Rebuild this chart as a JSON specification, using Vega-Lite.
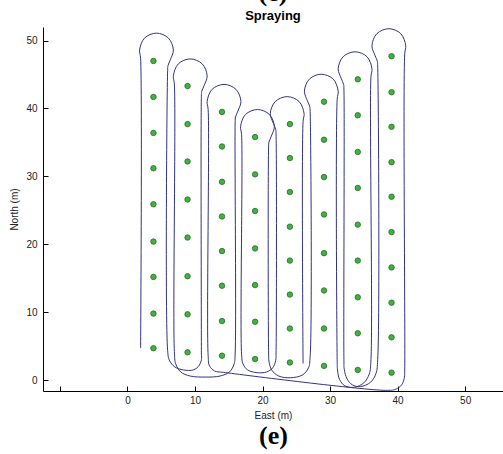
{
  "$schema": "https://vega.github.io/schema/vega-lite/v6.json",
  "width": 460,
  "height": 364,
  "autosize": {"type": "none"},
  "padding": {"left": 43, "top": 27, "right": 0, "bottom": 63},
  "background": "white",
  "title": {
    "text": "(e)",
    "subtitle": "Spraying",
    "anchor": "middle",
    "font": "Liberation Serif",
    "fontSize": 26,
    "fontWeight": "bold",
    "color": "black",
    "subtitleFont": "Liberation Sans",
    "subtitleFontSize": 13,
    "subtitleFontWeight": "bold",
    "subtitleColor": "black",
    "subtitlePadding": 4,
    "offset": 4
  },
  "config": {
    "view": {"stroke": null},
    "axis": {
      "grid": false,
      "domainColor": "black",
      "tickColor": "black",
      "labelFont": "Liberation Sans",
      "labelFontSize": 10,
      "labelColor": "#222222",
      "titleFont": "Liberation Sans",
      "titleFontSize": 10,
      "titleFontWeight": "normal",
      "titleColor": "#222222"
    }
  },
  "datasets": {
    "path": [
      {"i": 1, "x": 1.95, "y": 4.7}, {"i": 2, "x": 1.95, "y": 47.4}, {"i": 3, "x": 1.8, "y": 48.6},
      {"i": 4, "x": 2.53, "y": 50.37}, {"i": 5, "x": 4.3, "y": 51.1}, {"i": 6, "x": 6.07, "y": 50.37},
      {"i": 7, "x": 6.8, "y": 48.6}, {"i": 8, "x": 6.35, "y": 47.17}, {"i": 9, "x": 6.0, "y": 46.3},
      {"i": 10, "x": 5.95, "y": 45.6}, {"i": 11, "x": 5.95, "y": 4.4}, {"i": 12, "x": 6.2, "y": 2.95},
      {"i": 13, "x": 7.0, "y": 1.95}, {"i": 14, "x": 8.3, "y": 1.5}, {"i": 15, "x": 9.75, "y": 1.5},
      {"i": 16, "x": 10.5, "y": 2.0}, {"i": 17, "x": 10.95, "y": 3.0}, {"i": 18, "x": 10.95, "y": 4.0},
      {"i": 19, "x": 10.95, "y": 41.8}, {"i": 20, "x": 11.0, "y": 42.5}, {"i": 21, "x": 11.35, "y": 43.37},
      {"i": 22, "x": 11.8, "y": 44.8}, {"i": 23, "x": 11.07, "y": 46.57}, {"i": 24, "x": 9.3, "y": 47.3},
      {"i": 25, "x": 7.53, "y": 46.57}, {"i": 26, "x": 6.8, "y": 44.8}, {"i": 27, "x": 6.95, "y": 43.6},
      {"i": 28, "x": 6.95, "y": 4.2}, {"i": 29, "x": 7.15, "y": 2.4}, {"i": 30, "x": 7.9, "y": 1.2},
      {"i": 31, "x": 9.3, "y": 0.6}, {"i": 32, "x": 11.5, "y": 0.45}, {"i": 33, "x": 13.7, "y": 0.6},
      {"i": 34, "x": 15.1, "y": 1.2}, {"i": 35, "x": 15.8, "y": 2.4}, {"i": 36, "x": 15.95, "y": 4.0},
      {"i": 37, "x": 15.95, "y": 38.05}, {"i": 38, "x": 16.0, "y": 38.75}, {"i": 39, "x": 16.35, "y": 39.62},
      {"i": 40, "x": 16.8, "y": 41.05}, {"i": 41, "x": 16.07, "y": 42.82}, {"i": 42, "x": 14.3, "y": 43.55},
      {"i": 43, "x": 12.53, "y": 42.82}, {"i": 44, "x": 11.8, "y": 41.05}, {"i": 45, "x": 11.95, "y": 39.85},
      {"i": 46, "x": 11.95, "y": 3.6}, {"i": 47, "x": 12.15, "y": 2.1}, {"i": 48, "x": 12.9, "y": 1.35},
      {"i": 49, "x": 14.2, "y": 1.15}, {"i": 50, "x": 38.2, "y": -1.5}, {"i": 51, "x": 39.7, "y": -1.35},
      {"i": 52, "x": 40.6, "y": -0.7}, {"i": 53, "x": 41.0, "y": 0.4}, {"i": 54, "x": 41.05, "y": 1.5},
      {"i": 55, "x": 41.05, "y": 48.05}, {"i": 56, "x": 41.2, "y": 49.25}, {"i": 57, "x": 40.47, "y": 51.02},
      {"i": 58, "x": 38.7, "y": 51.75}, {"i": 59, "x": 36.93, "y": 51.02}, {"i": 60, "x": 36.2, "y": 49.25},
      {"i": 61, "x": 36.65, "y": 47.82}, {"i": 62, "x": 37.0, "y": 46.95}, {"i": 63, "x": 37.05, "y": 46.25},
      {"i": 64, "x": 37.05, "y": 3.0}, {"i": 65, "x": 36.8, "y": 1.0}, {"i": 66, "x": 36.0, "y": -0.3},
      {"i": 67, "x": 34.5, "y": -0.95}, {"i": 68, "x": 33.3, "y": -0.7}, {"i": 69, "x": 32.5, "y": 0.2},
      {"i": 70, "x": 32.1, "y": 1.6}, {"i": 71, "x": 32.05, "y": 3.0}, {"i": 72, "x": 32.05, "y": 42.85},
      {"i": 73, "x": 32.0, "y": 43.55}, {"i": 74, "x": 31.65, "y": 44.42}, {"i": 75, "x": 31.2, "y": 45.85},
      {"i": 76, "x": 31.93, "y": 47.62}, {"i": 77, "x": 33.7, "y": 48.35}, {"i": 78, "x": 35.47, "y": 47.62},
      {"i": 79, "x": 36.2, "y": 45.85}, {"i": 80, "x": 36.05, "y": 44.65}, {"i": 81, "x": 36.05, "y": 3.0},
      {"i": 82, "x": 35.8, "y": 0.9}, {"i": 83, "x": 35.0, "y": -0.4}, {"i": 84, "x": 33.6, "y": -1.05},
      {"i": 85, "x": 32.2, "y": -0.85}, {"i": 86, "x": 31.4, "y": 0.1}, {"i": 87, "x": 31.1, "y": 1.5},
      {"i": 88, "x": 31.05, "y": 3.0}, {"i": 89, "x": 31.05, "y": 41.35}, {"i": 90, "x": 31.2, "y": 42.55},
      {"i": 91, "x": 30.47, "y": 44.32}, {"i": 92, "x": 28.7, "y": 45.05}, {"i": 93, "x": 26.93, "y": 44.32},
      {"i": 94, "x": 26.2, "y": 42.55}, {"i": 95, "x": 26.65, "y": 41.12}, {"i": 96, "x": 27.0, "y": 40.25},
      {"i": 97, "x": 27.05, "y": 39.55}, {"i": 98, "x": 27.05, "y": 3.5}, {"i": 99, "x": 26.8, "y": 1.8},
      {"i": 100, "x": 25.9, "y": 0.75}, {"i": 101, "x": 24.1, "y": 0.35}, {"i": 102, "x": 22.4, "y": 0.6},
      {"i": 103, "x": 21.35, "y": 1.5}, {"i": 104, "x": 20.95, "y": 2.8}, {"i": 105, "x": 20.9, "y": 4.0},
      {"i": 106, "x": 20.9, "y": 34.35}, {"i": 107, "x": 20.95, "y": 35.05}, {"i": 108, "x": 21.3, "y": 35.92},
      {"i": 109, "x": 21.75, "y": 37.35}, {"i": 110, "x": 21.02, "y": 39.12}, {"i": 111, "x": 19.25, "y": 39.85},
      {"i": 112, "x": 17.48, "y": 39.12}, {"i": 113, "x": 16.75, "y": 37.35}, {"i": 114, "x": 16.9, "y": 36.15},
      {"i": 115, "x": 16.9, "y": 3.8}, {"i": 116, "x": 17.1, "y": 2.4}, {"i": 117, "x": 17.8, "y": 1.5},
      {"i": 118, "x": 19.2, "y": 1.1}, {"i": 119, "x": 20.6, "y": 1.2}, {"i": 120, "x": 21.5, "y": 1.8},
      {"i": 121, "x": 21.95, "y": 2.9}, {"i": 122, "x": 22.0, "y": 4.0}, {"i": 123, "x": 22.0, "y": 36.25},
      {"i": 124, "x": 21.95, "y": 36.95}, {"i": 125, "x": 21.6, "y": 37.82}, {"i": 126, "x": 21.15, "y": 39.25},
      {"i": 127, "x": 21.88, "y": 41.02}, {"i": 128, "x": 23.65, "y": 41.75}, {"i": 129, "x": 25.42, "y": 41.02},
      {"i": 130, "x": 26.15, "y": 39.25}, {"i": 131, "x": 26.0, "y": 38.05}, {"i": 132, "x": 26.0, "y": 2.45}
    ],
    "trees": [
      {"x": 3.85, "y": 47.0}, {"x": 3.85, "y": 41.7}, {"x": 3.85, "y": 36.4}, {"x": 3.85, "y": 31.2}, {"x": 3.85, "y": 25.9},
      {"x": 3.85, "y": 20.4}, {"x": 3.85, "y": 15.2}, {"x": 3.85, "y": 9.8}, {"x": 3.85, "y": 4.7},
      {"x": 8.9, "y": 43.3}, {"x": 8.9, "y": 37.7}, {"x": 8.9, "y": 32.2}, {"x": 8.9, "y": 26.6},
      {"x": 8.9, "y": 21.0}, {"x": 8.9, "y": 15.3}, {"x": 8.9, "y": 9.7}, {"x": 8.9, "y": 4.1},
      {"x": 14.0, "y": 39.5}, {"x": 14.0, "y": 34.4}, {"x": 14.0, "y": 29.2}, {"x": 14.0, "y": 24.1},
      {"x": 14.0, "y": 19.0}, {"x": 14.0, "y": 13.9}, {"x": 14.0, "y": 8.7}, {"x": 14.0, "y": 3.6},
      {"x": 18.9, "y": 35.8}, {"x": 18.9, "y": 30.3}, {"x": 18.9, "y": 24.9}, {"x": 18.9, "y": 19.4},
      {"x": 18.9, "y": 14.0}, {"x": 18.9, "y": 8.6}, {"x": 18.9, "y": 3.1},
      {"x": 24.05, "y": 37.7}, {"x": 24.05, "y": 32.7}, {"x": 24.05, "y": 27.7}, {"x": 24.05, "y": 22.6},
      {"x": 24.05, "y": 17.6}, {"x": 24.05, "y": 12.6}, {"x": 24.05, "y": 7.6}, {"x": 24.05, "y": 2.6},
      {"x": 29.1, "y": 41.0}, {"x": 29.1, "y": 35.4}, {"x": 29.1, "y": 29.9}, {"x": 29.1, "y": 24.4},
      {"x": 29.1, "y": 18.7}, {"x": 29.1, "y": 13.2}, {"x": 29.1, "y": 7.6}, {"x": 29.1, "y": 2.1},
      {"x": 34.1, "y": 44.3}, {"x": 34.1, "y": 39.0}, {"x": 34.1, "y": 33.6}, {"x": 34.1, "y": 28.3},
      {"x": 34.1, "y": 22.9}, {"x": 34.1, "y": 17.6}, {"x": 34.1, "y": 12.2}, {"x": 34.1, "y": 6.9}, {"x": 34.1, "y": 1.5},
      {"x": 39.1, "y": 47.7}, {"x": 39.1, "y": 42.4}, {"x": 39.1, "y": 37.3}, {"x": 39.1, "y": 32.1}, {"x": 39.1, "y": 27.0},
      {"x": 39.1, "y": 21.8}, {"x": 39.1, "y": 16.6}, {"x": 39.1, "y": 11.4}, {"x": 39.1, "y": 6.3}, {"x": 39.1, "y": 1.1}
    ]
  },
  "layer": [
    {
      "data": {"name": "path"},
      "mark": {"type": "line", "interpolate": "catmull-rom", "color": "#33337f", "strokeWidth": 1},
      "encoding": {
        "x": {
          "field": "x", "type": "quantitative",
          "scale": {"domain": [-12.5, 55.6], "nice": false, "zero": false},
          "axis": {
            "orient": "bottom", "title": "East (m)",
            "values": [-10, 0, 10, 20, 30, 40, 50],
            "labelExpr": "datum.value === -10 ? '' : datum.label",
            "tickSize": -5, "labelPadding": 9, "titlePadding": 5
          }
        },
        "y": {
          "field": "y", "type": "quantitative",
          "scale": {"domain": [-1.6, 52], "nice": false, "zero": false},
          "axis": {
            "title": "North (m)",
            "values": [0, 5, 10, 15, 20, 25, 30, 35, 40, 45, 50],
            "tickSize": -5, "labelPadding": 11, "titlePadding": 6
          }
        },
        "order": {"field": "i", "type": "quantitative"}
      }
    },
    {
      "data": {"name": "trees"},
      "mark": {"type": "circle", "fill": "#3fb23f", "stroke": "#2a6a2a", "strokeWidth": 0.8, "size": 30, "opacity": 1},
      "encoding": {
        "x": {
          "field": "x", "type": "quantitative",
          "axis": {
            "orient": "bottom", "title": "(e)", "domain": false, "ticks": false, "labels": false,
            "titleFont": "Liberation Serif", "titleFontSize": 26, "titleFontWeight": "bold", "titleColor": "black",
            "titlePadding": 31
          }
        },
        "y": {"field": "y", "type": "quantitative"}
      }
    }
  ],
  "resolve": {"axis": {"x": "independent"}}
}
